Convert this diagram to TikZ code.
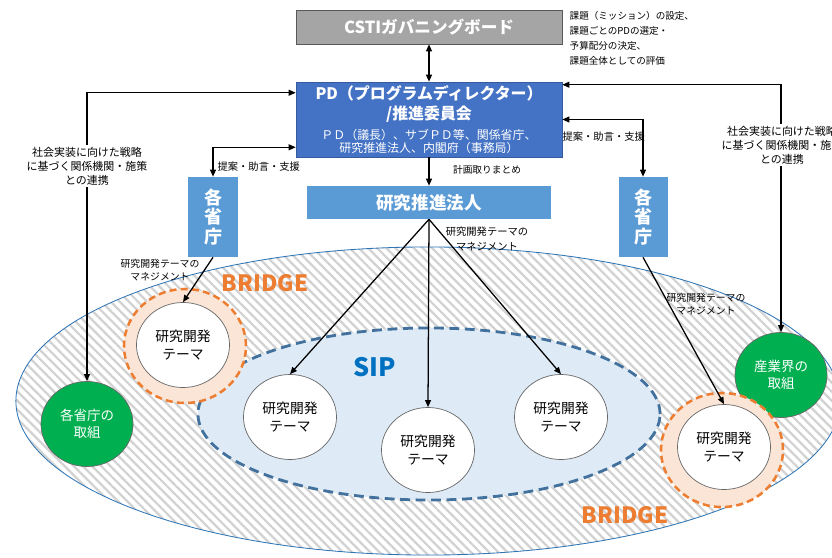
\documentclass[tikz,border=0pt]{standalone}
\usepackage{fontspec}
\setmainfont{Noto Sans CJK JP}
\usetikzlibrary{shapes,arrows.meta,positioning,calc,patterns.meta}

\definecolor{pdblue}{HTML}{4472C4}
\definecolor{lightblue}{HTML}{5B9BD5}
\definecolor{cstigray}{HTML}{A5A5A5}
\definecolor{bridgeorange}{HTML}{ED7D31}
\definecolor{peach}{HTML}{FBE5D6}
\definecolor{sipfill}{HTML}{DEEBF7}
\definecolor{sipline}{HTML}{41719C}
\definecolor{siptext}{HTML}{0070C0}
\definecolor{outerline}{HTML}{2E75B6}
\definecolor{actgreen}{HTML}{00B050}

\tikzset{
  conn/.style={-{Triangle[length=5pt,width=4.2pt]}, line width=0.9pt},
  both/.style={{Triangle[length=5pt,width=4.2pt]}-{Triangle[length=5pt,width=4.2pt]}, line width=0.9pt},
  theme/.style={ellipse, draw=gray!80!black, line width=0.5pt, fill=white, minimum width=2.325cm, minimum height=2.125cm, inner sep=0pt, align=center, font=\fontsize{9.8}{13}\selectfont},
  ring/.style={ellipse, draw=bridgeorange, fill=peach, dash pattern=on 5pt off 3pt, line width=1.8pt, minimum width=3.05cm, minimum height=2.85cm},
  effort/.style={ellipse, draw=gray!80!black, line width=0.5pt, fill=actgreen, text=white, minimum width=2.3cm, minimum height=2.125cm, inner sep=0pt, align=center, font=\fontsize{9.6}{12.5}\selectfont},
  note/.style={align=center, font=\fontsize{7.3}{10}\selectfont, inner sep=1pt},
  ministry/.style={fill=lightblue, text=white, minimum width=1.225cm, minimum height=2cm, align=center, font=\bfseries\fontsize{12.8}{13.8}\selectfont},
  bridgetag/.style={text=bridgeorange, font=\bfseries\fontsize{16}{16}\selectfont}
}

\begin{document}
\begin{tikzpicture}[x=0.025cm, y=-0.025cm]
\useasboundingbox (0,0) rectangle (832,557);

% BRIDGE area and SIP area
\node[ellipse, draw=outerline, line width=0.6pt, preaction={fill=white},
  pattern={Lines[angle=-45,distance=4.6pt,line width=1.6pt]}, pattern color=gray!35,
  minimum width=20.6cm, minimum height=7.7cm] (outer) at (428,401) {};
\node[ellipse, fill=sipfill, draw=sipline, line width=2pt, dash pattern=on 7pt off 4pt,
  minimum width=11.55cm, minimum height=4.3cm] (sip) at (429,414) {};
\node[text=siptext, font=\bfseries\fontsize{18}{18}\selectfont] (siptag) at (375,367) {SIP};
\node[bridgetag] (bridgetop) at (265,283) {BRIDGE};
\node[bridgetag] (bridgebot) at (625,515) {BRIDGE};

% Top boxes
\node[fill=cstigray, draw=gray!70!black, minimum width=6.65cm, minimum height=0.85cm,
  text=white, font=\bfseries\fontsize{11.8}{12}\selectfont] (csti) at (429,27) {CSTIガバニングボード};
\node[align=left, anchor=north west, inner sep=1pt, font=\fontsize{6.8}{10.6}\selectfont] (cstinote) at (568,10)
  {課題（ミッション）の設定、\\課題ごとのPDの選定・\\予算配分の決定、\\課題全体としての評価};
\node[fill=pdblue, draw=pdblue!80!black, minimum width=6.65cm, minimum height=1.875cm,
  text=white, align=center, inner sep=1pt, font=\fontsize{8.5}{14.2}\selectfont] (pd) at (429,119.5)
  {{\bfseries\fontsize{11.3}{14}\selectfont PD（プログラムディレクター）}\\
   {\bfseries\fontsize{11.3}{14}\selectfont /推進委員会}\\
   {\fontsize{8.5}{10}\selectfont ＰＤ（議長）、サブＰＤ等、関係省庁、}\\[-4.8pt]
   {\fontsize{8.5}{10}\selectfont 研究推進法人、内閣府（事務局）}};
\node[fill=lightblue, minimum width=6.1cm, minimum height=0.825cm, text=white,
  font=\bfseries\fontsize{12.5}{13}\selectfont] (lead) at (429,202.5) {研究推進法人};
\node[ministry] (minL) at (213,217) {各\\省\\庁};
\node[ministry] (minR) at (643,217) {各\\省\\庁};

% Other actors
\node[effort] (ownL) at (87,424) {各省庁の\\取組};
\node[effort] (indR) at (781,375) {産業界の\\取組};

% BRIDGE themes
\node[ring] (ringL) at (185,346) {};
\node[theme] (bridgeL) at (183,345) {研究開発\\テーマ};
\node[ring] (ringR) at (722,450) {};
\node[theme] (bridgeR) at (724,447) {研究開発\\テーマ};

% SIP themes
\foreach \name/\x/\y in {sipA/290/417, sipB/428/450, sipC/561/417} {
  \node[theme] (\name) at (\x,\y) {研究開発\\テーマ};
  \draw[conn] (lead.south) -- (\name.north);
}

% Connectors
\draw[both] (csti.south) -- (pd.north);
\draw[conn] (pd.south) -- (lead.north);
\node[note, font=\fontsize{6.9}{10}\selectfont] (plan) at (487,170) {計画取りまとめ};
\draw[both] (minL.north) |- ($(pd.south west)+(0,-10)$);
\node[note, anchor=west] (advL) at (216,167) {提案・助言・支援};
\draw[both] (minR.north) |- (pd.east);
\node[note, anchor=west] (advR) at (561,137) {提案・助言・支援};
\draw[both] (ownL.north) |- ($(pd.north west)+(0,11)$);
\node[note, fill=white, font=\fontsize{7.8}{10}\selectfont] (stratL) at (87,166) {社会実装に向けた戦略\\に基づく関係機関・施策\\との連携};
\draw[both] (indR.north) |- ($(pd.north east)+(0,3)$);
\node[note, fill=white, font=\fontsize{7.8}{10}\selectfont] (stratR) at (782,145) {社会実装に向けた戦略\\に基づく関係機関・施策\\との連携};
\draw[conn] (minL.south) -- (bridgeL.north);
\draw[conn] (minR.south) -- (bridgeR.north);

% Management labels
\node[note, font=\fontsize{7.3}{10.5}\selectfont] (mgmtC) at (487,239) {研究開発テーマの\\マネジメント};
\node[note, font=\fontsize{7}{9.6}\selectfont] (mgmtL) at (160,270) {研究開発テーマの\\マネジメント};
\node[note, font=\fontsize{7}{9.6}\selectfont] (mgmtR) at (706,304) {研究開発テーマの\\マネジメント};

\end{tikzpicture}
\end{document}
